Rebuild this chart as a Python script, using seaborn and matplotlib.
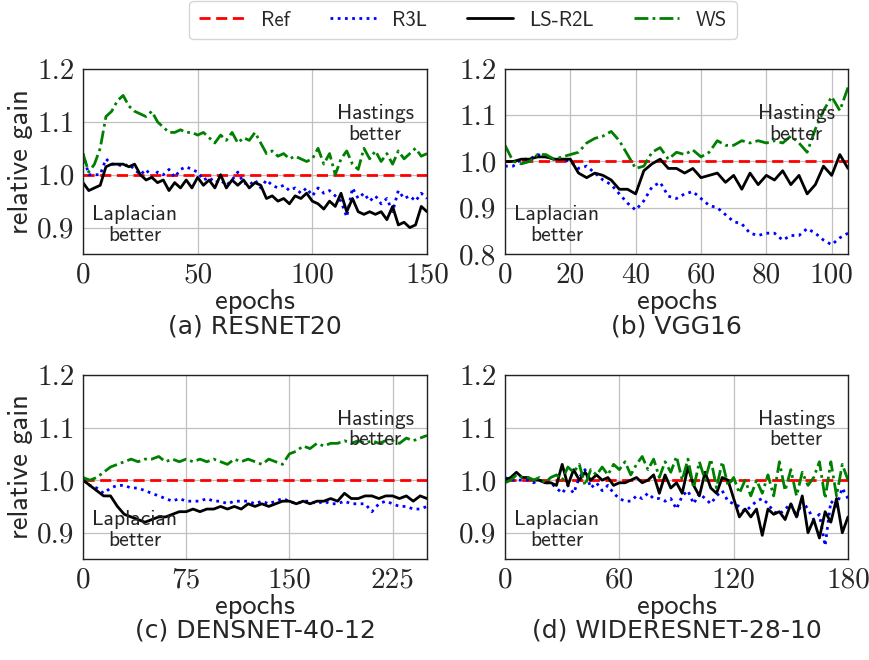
import numpy as np
import pandas as pd
import matplotlib
matplotlib.use("Agg")
import matplotlib.pyplot as plt
import seaborn as sns

# ---------------- data ----------------
series_names = ["Ref", "R3L", "LS-R2L", "WS"]
panel_titles = ["(a) RESNET20", "(b) VGG16", "(c) DENSNET-40-12", "(d) WIDERESNET-28-10"]
x_max = [150, 105, 250, 180]
x_ticks = [[0, 50, 100, 150], [0, 20, 40, 60, 80, 100], [0, 75, 150, 225], [0, 60, 120, 180]]
y_ticks = [[0.9, 1.0, 1.1, 1.2], [0.8, 0.9, 1.0, 1.1, 1.2], [0.9, 1.0, 1.1, 1.2], [0.9, 1.0, 1.1, 1.2]]
y_lims = [(0.85, 1.2), (0.8, 1.2), (0.85, 1.2), (0.85, 1.2)]
ref_value = 1.0

# (a) RESNET20, every 2.5 epochs
a_r3l = [1.04, 1.0, 1.0, 1.0, 1.03, 1.02, 1.02, 1.015, 1.02, 1.01, 1.0, 1.01, 0.995, 1.005,
         1.0, 1.01, 0.995, 1.01, 1.015, 1.01, 1.005, 0.99, 0.995, 0.985, 0.99, 0.98, 0.99,
         1.005, 0.985, 0.98, 0.99, 0.975, 0.99, 0.98, 0.975, 0.98, 0.97, 0.975, 0.965, 0.975,
         0.96, 0.975, 0.965, 0.97, 0.96, 0.95, 0.92, 0.975, 0.955, 0.965, 0.95, 0.96, 0.945,
         0.955, 0.93, 0.97, 0.955, 0.96, 0.95, 0.965, 0.955]
a_ls = [0.985, 0.97, 0.975, 0.98, 1.015, 1.02, 1.02, 1.02, 1.015, 1.02, 1.0, 0.99, 0.995,
        0.985, 0.99, 0.97, 0.985, 0.975, 0.99, 0.975, 0.995, 0.98, 0.99, 0.975, 1.0, 0.975,
        0.99, 0.98, 0.99, 0.975, 0.985, 0.98, 0.955, 0.96, 0.95, 0.955, 0.945, 0.96, 0.955,
        0.965, 0.95, 0.945, 0.935, 0.95, 0.94, 0.965, 0.93, 0.955, 0.93, 0.925, 0.93, 0.925,
        0.93, 0.915, 0.94, 0.905, 0.91, 0.9, 0.905, 0.94, 0.93]
a_ws = [1.04, 1.005, 1.02, 1.05, 1.11, 1.12, 1.14, 1.15, 1.13, 1.12, 1.115, 1.11, 1.12, 1.10,
        1.09, 1.08, 1.08, 1.085, 1.08, 1.08, 1.075, 1.08, 1.07, 1.06, 1.075, 1.065, 1.08,
        1.06, 1.07, 1.065, 1.08, 1.06, 1.04, 1.045, 1.035, 1.04, 1.03, 1.035, 1.03, 1.025,
        1.03, 1.05, 1.02, 1.04, 1.0, 1.03, 1.045, 1.02, 1.01, 1.05, 1.03, 1.045, 1.025, 1.04,
        1.02, 1.045, 1.03, 1.04, 1.05, 1.035, 1.04]

# (b) VGG16, every 2.5 epochs
b_r3l = [0.99, 0.99, 1.005, 1.005, 1.015, 1.01, 1.005, 1.005, 1.0, 0.985, 0.99, 0.975, 0.96,
         0.95, 0.93, 0.91, 0.895, 0.915, 0.945, 0.955, 0.925, 0.92, 0.93, 0.935, 0.92, 0.905,
         0.9, 0.885, 0.87, 0.865, 0.845, 0.84, 0.845, 0.845, 0.83, 0.84, 0.84, 0.855, 0.845,
         0.83, 0.82, 0.835, 0.845]
b_ls = [1.0, 1.0, 1.005, 1.005, 1.01, 1.01, 1.005, 1.005, 1.005, 0.975, 0.965, 0.975, 0.97,
        0.96, 0.94, 0.94, 0.93, 0.98, 0.995, 1.005, 0.985, 0.985, 0.975, 0.985, 0.965, 0.97,
        0.975, 0.955, 0.97, 0.94, 0.975, 0.95, 0.97, 0.96, 0.98, 0.95, 0.97, 0.93, 0.95, 0.99,
        0.97, 1.015, 0.985]
b_ws = [1.035, 1.0, 0.995, 1.0, 1.015, 1.015, 1.005, 1.01, 1.015, 1.02, 1.04, 1.05, 1.055,
        1.065, 1.045, 1.015, 0.985, 0.99, 1.02, 1.03, 1.005, 1.02, 1.015, 1.025, 1.01, 1.02,
        1.045, 1.035, 1.035, 1.045, 1.04, 1.045, 1.04, 1.045, 1.04, 1.055, 1.04, 1.02, 1.07,
        1.11, 1.14, 1.11, 1.16]

# (c) DENSNET-40-12, every 5 epochs
c_r3l = [1.0, 0.99, 0.985, 0.975, 0.985, 0.99, 0.99, 0.985, 0.985, 0.98, 0.975, 0.97, 0.965,
         0.96, 0.965, 0.96, 0.96, 0.96, 0.965, 0.96, 0.96, 0.955, 0.96, 0.96, 0.96, 0.955,
         0.96, 0.955, 0.96, 0.965, 0.96, 0.955, 0.96, 0.96, 0.955, 0.96, 0.955, 0.955, 0.96,
         0.955, 0.955, 0.955, 0.94, 0.955, 0.96, 0.955, 0.95, 0.95, 0.945, 0.945, 0.95]
c_ls = [1.0, 0.99, 0.98, 0.97, 0.97, 0.95, 0.935, 0.93, 0.925, 0.92, 0.925, 0.93, 0.93, 0.935,
        0.94, 0.94, 0.945, 0.94, 0.945, 0.945, 0.95, 0.945, 0.95, 0.945, 0.955, 0.95, 0.955,
        0.95, 0.955, 0.96, 0.96, 0.955, 0.96, 0.955, 0.96, 0.96, 0.965, 0.96, 0.975, 0.965,
        0.965, 0.97, 0.97, 0.965, 0.97, 0.97, 0.965, 0.97, 0.96, 0.97, 0.965]
c_ws = [1.005, 1.0, 1.005, 1.015, 1.025, 1.03, 1.035, 1.04, 1.035, 1.04, 1.04, 1.045, 1.035,
        1.04, 1.035, 1.04, 1.035, 1.04, 1.035, 1.04, 1.035, 1.03, 1.04, 1.035, 1.04, 1.035,
        1.03, 1.04, 1.035, 1.03, 1.05, 1.055, 1.065, 1.06, 1.07, 1.065, 1.07, 1.07, 1.075,
        1.07, 1.075, 1.07, 1.075, 1.07, 1.075, 1.075, 1.07, 1.08, 1.075, 1.08, 1.085]

# (d) WIDERESNET-28-10, every 3 epochs
d_r3l = [1.005, 1.0, 1.0, 1.0, 1.0, 0.995, 1.0, 0.995, 0.995, 0.985, 0.975, 0.99, 0.975,
         1.005, 1.02, 0.985, 0.995, 0.98, 0.99, 0.975, 0.965, 0.96, 0.96, 0.97, 0.965, 0.975,
         0.965, 0.965, 0.96, 0.965, 0.945, 0.97, 0.98, 0.955, 0.975, 0.965, 0.955, 0.97, 0.98,
         0.96, 0.955, 0.95, 0.94, 0.95, 0.96, 0.965, 0.955, 0.94, 0.935, 0.945, 0.955, 0.93,
         0.96, 0.945, 0.925, 0.935, 0.875, 0.96, 0.95, 0.985, 0.965]
d_ls = [1.0, 1.005, 1.015, 1.005, 1.005, 1.0, 1.0, 0.995, 0.995, 0.99, 1.03, 0.99, 1.02, 1.0,
        1.015, 1.0, 1.01, 1.0, 1.005, 0.99, 0.995, 0.995, 1.0, 1.005, 0.995, 1.0, 1.01, 0.975,
        1.01, 0.985, 0.995, 0.975, 1.025, 0.99, 0.97, 1.015, 0.985, 0.975, 1.005, 1.0, 0.965,
        0.93, 0.945, 0.93, 0.945, 0.895, 0.945, 0.935, 0.94, 0.925, 0.955, 0.93, 0.97, 0.9,
        0.925, 0.89, 0.94, 0.92, 0.965, 0.9, 0.93]
d_ws = [0.995, 1.0, 1.01, 1.005, 1.005, 1.0, 1.005, 0.995, 1.005, 1.01, 1.0, 1.025, 1.015,
        1.03, 0.99, 1.02, 1.01, 1.025, 1.01, 1.03, 1.02, 1.035, 1.01, 1.03, 1.045, 1.02, 1.04,
        1.005, 1.035, 1.015, 1.045, 1.0, 1.04, 0.985, 1.035, 1.0, 1.04, 0.985, 1.035, 0.99,
        1.005, 0.975, 1.0, 0.97, 1.0, 0.975, 1.01, 0.97, 1.035, 0.98, 1.02, 0.97, 1.015, 0.99,
        1.005, 1.035, 0.965, 1.035, 0.97, 1.03, 1.0]

panel_data = [(a_r3l, a_ls, a_ws), (b_r3l, b_ls, b_ws), (c_r3l, c_ls, c_ws), (d_r3l, d_ls, d_ws)]

# ---------------- style ----------------
sns.set_style("whitegrid")
plt.rcParams["font.family"] = ["DejaVu Sans"]
plt.rcParams["axes.edgecolor"] = "#222222"
plt.rcParams["axes.linewidth"] = 1.0
plt.rcParams["grid.color"] = "#c0c0c0"
plt.rcParams["grid.linewidth"] = 0.9

colors = {"Ref": "red", "R3L": "blue", "LS-R2L": "black", "WS": "green"}
styles = {"Ref": (0, (4, 2)), "R3L": (0, (1, 1.6)), "LS-R2L": "-", "WS": (0, (5, 1.5, 1, 1.5))}

fig = plt.figure(figsize=(8.69, 6.6), dpi=100)
W, H = 869.0, 660.0
boxes = [(83, 69, 427, 254), (505, 69, 848, 254), (83, 375, 427, 559), (505, 375, 848, 559)]

handles = {}
for i, (l, t, r, b) in enumerate(boxes):
    ax = fig.add_axes([l / W, 1 - b / H, (r - l) / W, (b - t) / H])
    r3l, ls, ws = panel_data[i]
    n = len(r3l)
    epochs = np.linspace(0, x_max[i], n)
    df = pd.DataFrame({"epoch": np.concatenate([[0, x_max[i]], epochs, epochs, epochs]),
                       "gain": np.concatenate([[ref_value, ref_value], r3l, ls, ws]),
                       "method": ["Ref"] * 2 + ["R3L"] * n + ["LS-R2L"] * n + ["WS"] * n})
    for name in series_names:
        sub = df[df["method"] == name]
        sns.lineplot(data=sub, x="epoch", y="gain", ax=ax, color=colors[name],
                     linestyle=styles[name], linewidth=2.0, label=name, legend=False)
    for line, name in zip(ax.get_lines(), series_names):
        handles[name] = line
    ax.set_xlim(0, x_max[i])
    ax.set_ylim(*y_lims[i])
    ax.set_xticks(x_ticks[i])
    ax.set_yticks(y_ticks[i])
    ax.set_xticklabels([str(v) for v in x_ticks[i]], fontfamily="cmr10", fontsize=21)
    ax.set_yticklabels(["%.1f" % v for v in y_ticks[i]], fontfamily="cmr10", fontsize=21)
    ax.tick_params(axis="both", which="major", length=4, width=1, color="#222222", pad=2)
    ax.grid(True)
    ax.set_xlabel("epochs", fontfamily="cmss10", fontsize=20.5, labelpad=0)
    if i in (0, 2):
        ax.set_ylabel("relative gain", fontfamily="cmss10", fontsize=20.5, labelpad=3)
    else:
        ax.set_ylabel("")
    for s in ax.spines.values():
        s.set_visible(True)
        s.set_color("#222222")
    ax.text(0.849, 0.703, "Hastings\nbetter", transform=ax.transAxes, ha="center",
            va="center", fontfamily="cmss10", fontsize=15.5, linespacing=1.1)
    ax.text(0.151, 0.157, "Laplacian\nbetter", transform=ax.transAxes, ha="center",
            va="center", fontfamily="cmss10", fontsize=15.5, linespacing=1.1)
    ax.text(0.5, -0.39, panel_titles[i], transform=ax.transAxes, ha="center", va="center",
            fontsize=18)

leg = fig.legend([handles[n] for n in series_names], series_names, loc="center",
                 bbox_to_anchor=(463 / W, 1 - 20 / H), ncol=4, frameon=True,
                 prop={"family": "cmss10", "size": 15}, handlelength=2.2,
                 handletextpad=0.8, columnspacing=1.9, borderpad=0.45)
leg.get_frame().set_edgecolor("#cccccc")
leg.get_frame().set_linewidth(1.0)

fig.savefig("out.png", dpi=100)
